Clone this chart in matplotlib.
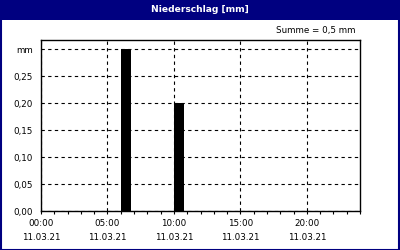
import matplotlib
matplotlib.use("Agg")
import matplotlib.pyplot as plt
from matplotlib.patches import Rectangle
from matplotlib.ticker import FixedLocator, MultipleLocator

# Data
bar_start_hours = [6.0, 10.0]
bar_values = [0.30, 0.20]
bar_width_hours = 0.77
ytick_values = [0.0, 0.05, 0.10, 0.15, 0.20, 0.25, 0.30]
ytick_labels = ["0,00", "0,05", "0,10", "0,15", "0,20", "0,25", "mm"]
xtick_values = [0, 5, 10, 15, 20]
xtick_labels = ["00:00\n11.03.21", "05:00\n11.03.21", "10:00\n11.03.21",
                "15:00\n11.03.21", "20:00\n11.03.21"]
title = "Niederschlag [mm]"
summe_text = "Summe = 0,5 mm"

navy = "#000080"
plt.rcParams['font.family'] = ['DejaVu Sans']

fig = plt.figure(figsize=(4, 2.5), dpi=100)
fig.patch.set_facecolor("white")

# title bar
fig.patches.append(Rectangle((0, 1 - 20/250), 1, 20/250, transform=fig.transFigure,
                             facecolor=navy, edgecolor="none", zorder=0))
# border
fig.patches.append(Rectangle((0.5/400, 0.5/250), 1 - 1.5/400, 1 - 1.5/250,
                             transform=fig.transFigure, facecolor="none",
                             edgecolor=navy, linewidth=1.5, zorder=1))
fig.text(0.5, 1 - 10/250, title, color="white", fontsize=6.6, fontweight="bold",
         ha="center", va="center")
fig.text(355/400, 1 - 31/250, summe_text, color="black", fontsize=6.3,
         ha="right", va="center")

ax = fig.add_axes([41/400, 1 - 211/250, (360 - 41)/400, (211 - 40)/250])
ax.bar(bar_start_hours, bar_values, width=bar_width_hours, align="edge",
       color="black", zorder=3)
ax.set_xlim(0, 24)
ax.set_ylim(0, 0.3167)
ax.yaxis.set_major_locator(FixedLocator(ytick_values))
ax.set_yticklabels(ytick_labels)
ax.xaxis.set_major_locator(FixedLocator(xtick_values))
ax.set_xticklabels(xtick_labels, linespacing=1.75)
ax.xaxis.set_minor_locator(MultipleLocator(1))
ax.tick_params(axis="x", which="both", direction="out", length=2.5, width=0.8,
               labelsize=6.3, pad=3)
ax.tick_params(axis="y", which="both", length=0, labelsize=6.3, pad=6)
ax.grid(True, which="major", color="black", linestyle=(0, (3, 3)), linewidth=0.8)
for s in ax.spines.values():
    s.set_linewidth(1.0)
    s.set_color("black")
ax.set_axisbelow(True)

fig.savefig("out.png", dpi=100, facecolor="white")
